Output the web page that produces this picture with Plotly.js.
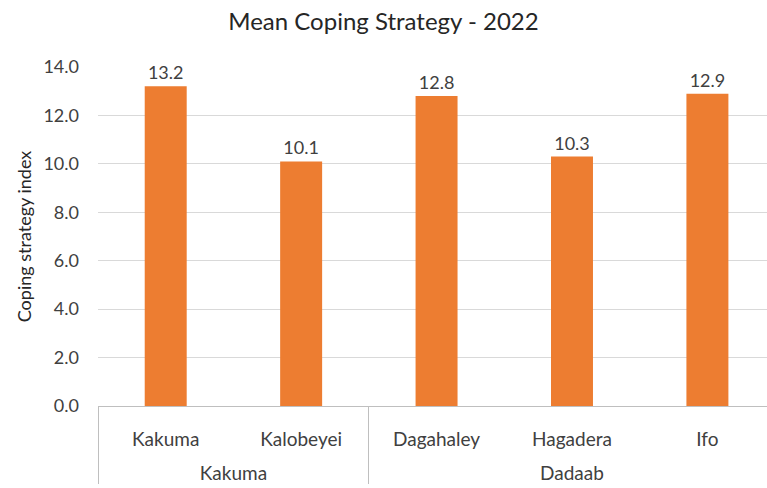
<!DOCTYPE html>
<html>
<head>
<meta charset="utf-8">
<script src="https://cdn.plot.ly/plotly-3.0.1.min.js"></script>
<style>html,body{margin:0;padding:0;background:#fff;}#chart{width:767px;height:488px;}</style>
</head>
<body>
<div id="chart"></div>
<script>
var groups = ["Kakuma", "Kakuma", "Dadaab", "Dadaab", "Dadaab"];
var camps = ["Kakuma", "Kalobeyei", "Dagahaley", "Hagadera", "Ifo"];
var values = [13.2, 10.1, 12.8, 10.3, 12.9];
var yTicks = [0, 2, 4, 6, 8, 10, 12, 14];

var FONT = "Lato, 'Open Sans', sans-serif";

var trace = {
  type: "bar",
  x: [groups.map(function(g){ return "<br>" + g; }), camps],
  y: values,
  width: 0.31,
  marker: {color: "#ED7D31"},
  text: values.map(function(v){ return v.toFixed(1); }),
  textposition: "outside",
  textfont: {family: FONT, size: 18, color: "#404040"},
  cliponaxis: false,
  hoverinfo: "none"
};

var layout = {
  width: 767, height: 488,
  margin: {l: 98, r: 0, t: 67, b: 82},
  paper_bgcolor: "#fff", plot_bgcolor: "#fff",
  showlegend: false,
  font: {family: FONT, color: "#595959", size: 18},
  title: {text: "Mean Coping Strategy - 2022", x: 0.5, xanchor: "center", y: 0.955, yanchor: "middle",
          font: {family: FONT, size: 24, color: "#262626"}},
  xaxis: {
    type: "multicategory",
    range: [-0.5, 4.44],
    showgrid: false,
    showline: true, linecolor: "#bfbfbf", linewidth: 1,
    showdividers: true, dividercolor: "#bfbfbf", dividerwidth: 1,
    ticks: "",
    ticklabelstandoff: 16,
    tickfont: {family: FONT, size: 19, color: "#404040"}
  },
  yaxis: {
    range: [0, 14],
    tickvals: yTicks,
    ticktext: yTicks.map(function(v){ return v.toFixed(1); }),
    showgrid: true, gridcolor: "#d9d9d9", gridwidth: 1,
    zeroline: false, showline: false,
    ticks: "", ticklen: 0,
    ticklabelstandoff: 18,
    tickfont: {family: FONT, size: 18, color: "#404040"},
    title: {text: "Coping strategy index", standoff: 7,
            font: {family: FONT, size: 18, color: "#262626"}}
  }
};

Plotly.newPlot("chart", [trace], layout, {staticPlot: true, displayModeBar: false});
</script>
</body>
</html>
